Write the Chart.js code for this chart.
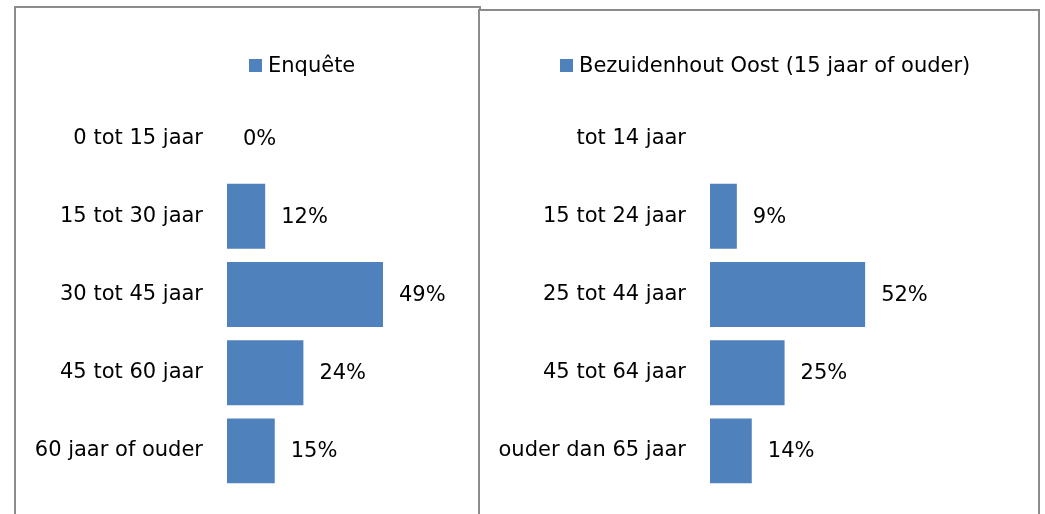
<!DOCTYPE html>
<html>
<head>
<meta charset="utf-8">
<script src="https://cdn.jsdelivr.net/npm/chart.js@4.4.1/dist/chart.umd.min.js"></script>
<style>
  body { margin: 0; background: #fff; width: 1045px; height: 514px; overflow: hidden; position: relative; }
  .panel { position: absolute; border: 2px solid #8c8c8c; background: #fff; box-sizing: border-box; }
  #leftPanel { left: 14px; top: 6px; width: 467px; height: 530px; }
  #rightPanel { left: 478px; top: 9px; width: 562px; height: 530px; }
  canvas { position: absolute; }
  #leftChart { left: 17px; top: 9px; }
  #rightChart { left: 481px; top: 9px; }
</style>
</head>
<body>
<div class="panel" id="leftPanel"></div>
<div class="panel" id="rightPanel"></div>
<canvas id="leftChart" width="461" height="505"></canvas>
<canvas id="rightChart" width="557" height="505"></canvas>
<script>
// data
const leftCategories = ["0 tot 15 jaar", "15 tot 30 jaar", "30 tot 45 jaar", "45 tot 60 jaar", "60 jaar of ouder"];
const leftValues = [0, 12, 49, 24, 15];
const leftLabel = "Enquête";

const rightCategories = ["tot 14 jaar", "15 tot 24 jaar", "25 tot 44 jaar", "45 tot 64 jaar", "ouder dan 65 jaar"];
const rightValues = [null, 9, 52, 25, 14];
const rightLabel = "Bezuidenhout Oost (15 jaar of ouder)";

const barColor = "#4F81BD";
const fontFamily = "'DejaVu Sans', Verdana, sans-serif";

// draws the value labels next to the bars and the small legend
const barLabels = {
  id: "barLabels",
  afterDatasetsDraw(chart, args, opts) {
    const ctx = chart.ctx;
    const ds = chart.data.datasets[0];
    const meta = chart.getDatasetMeta(0);
    ctx.save();
    ctx.font = "21px " + fontFamily;
    ctx.fillStyle = "#000";
    ctx.textBaseline = "middle";
    ctx.textAlign = "left";
    meta.data.forEach((bar, i) => {
      if (ds.data[i] === null) return;
      ctx.fillText(ds.data[i] + "%", bar.x + 16, bar.y + 1);
    });
    // legend
    ctx.fillStyle = ds.backgroundColor;
    ctx.fillRect(opts.x, opts.y, 13, 13);
    ctx.fillStyle = "#000";
    ctx.fillText(ds.label, opts.x + 19, opts.y + 8);
    ctx.restore();
  },
};

function makeChart(id, categories, values, label, axisWidth, padRight, legendX) {
  const ctx = document.getElementById(id).getContext("2d");
  return new Chart(ctx, {
    type: "bar",
    data: {
      labels: categories,
      datasets: [
        {
          label: label,
          data: values,
          backgroundColor: barColor,
          borderWidth: 0,
          categoryPercentage: 1,
          barPercentage: 0.83,
        },
      ],
    },
    options: {
      indexAxis: "y",
      responsive: false,
      animation: false,
      layout: { padding: { top: 90, bottom: 24, left: 0, right: padRight } },
      scales: {
        x: { display: false, min: 0, max: 60 },
        y: {
          grid: { display: false, drawTicks: false },
          border: { display: false },
          ticks: { padding: 24, color: "#000", font: { family: fontFamily, size: 21 } },
          afterFit(scale) {
            scale.width = axisWidth;
            scale.paddingTop = 0;
            scale.paddingBottom = 0;
          },
        },
      },
      plugins: {
        legend: { display: false },
        tooltip: { enabled: false },
        barLabels: { x: legendX, y: 50 },
      },
    },
    plugins: [barLabels],
  });
}

makeChart("leftChart", leftCategories, leftValues, leftLabel, 210, 60, 232);
makeChart("rightChart", rightCategories, rightValues, rightLabel, 229, 149, 79);
</script>
</body>
</html>
